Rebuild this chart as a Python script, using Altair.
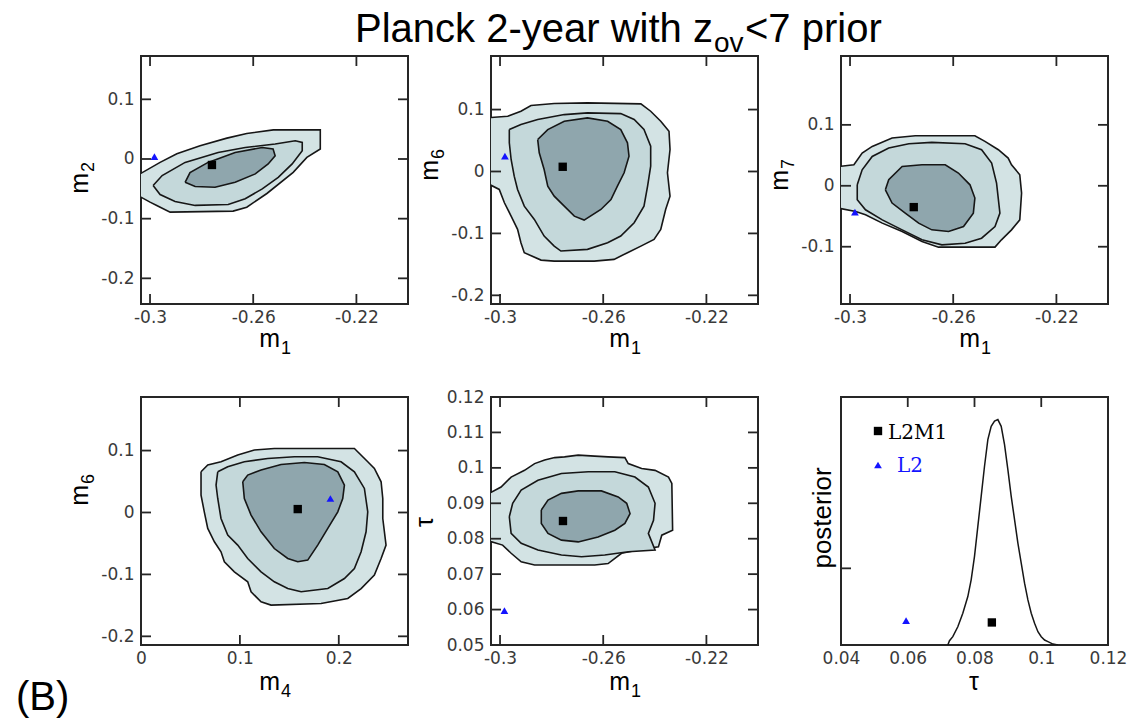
import altair as alt
import pandas as pd

# ---------------- text ----------------
TITLE_MAIN = "Planck 2-year with z"
TITLE_SUB = "ov"
TITLE_END = "<7 prior"
PANEL_TAG = "(B)"
LEGEND_LABELS = ["L2M1", "L2"]

# ---------------- axis domains / ticks ----------------
M1_DOMAIN = [-0.3035, -0.2]
M2_DOMAIN = [-0.243, 0.1726]
M6_DOMAIN = [-0.214, 0.1865]
M7_DOMAIN = [-0.194, 0.213]
M4_DOMAIN = [0.0, 0.27]
TAU_DOMAIN = [0.05, 0.12]
TAU6_DOMAIN = [0.04, 0.12]
POST_DOMAIN = [0.0, 1.1]

M1_TICKS = [-0.3, -0.26, -0.22]
MY_TICKS = [-0.2, -0.1, 0, 0.1]
M7_TICKS = [-0.1, 0, 0.1]
M4_TICKS = [0, 0.1, 0.2]
TAU_TICKS = [0.05, 0.06, 0.07, 0.08, 0.09, 0.1, 0.11, 0.12]
TAU6_TICKS = [0.04, 0.06, 0.08, 0.1, 0.12]
TAU6_TOP_TICKS = [0.06, 0.08, 0.1]
POST_TICKS = [0.34]

# ---------------- contours (outer, middle, inner) ----------------
P1_OUT_X = [-0.3054, -0.3035, -0.2961, -0.2896, -0.2806, -0.2702, -0.2625, -0.2522, -0.234, -0.234, -0.2392, -0.2445, -0.2547, -0.2625, -0.2678, -0.2922, -0.2974, -0.3, -0.3035, -0.3054]
P1_OUT_Y = [-0.0245, -0.024, -0.0057, 0.0088, 0.0222, 0.035, 0.0427, 0.0488, 0.0488, 0.0167, 0.0027, -0.0223, -0.0578, -0.0807, -0.0873, -0.089, -0.0778, -0.0723, -0.064, -0.063]
P1_MID_X = [-0.2988, -0.2953, -0.2864, -0.2736, -0.2631, -0.2515, -0.2437, -0.241, -0.241, -0.2449, -0.2503, -0.2565, -0.2631, -0.2697, -0.2825, -0.2903, -0.2961]
P1_MID_Y = [-0.0445, -0.0278, -0.0057, 0.011, 0.0193, 0.025, 0.0305, 0.0277, 0.0138, -0.0083, -0.0307, -0.05, -0.0667, -0.0762, -0.0778, -0.0712, -0.0595]
P1_IN_X = [-0.2864, -0.2845, -0.2775, -0.267, -0.2565, -0.2523, -0.2515, -0.2542, -0.2592, -0.267, -0.2748, -0.2825]
P1_IN_Y = [-0.039, -0.0228, -0.0057, 0.011, 0.0193, 0.0167, 0.0055, -0.0083, -0.025, -0.039, -0.0473, -0.0462]

P2_OUT_X = [-0.3054, -0.297, -0.2919, -0.288, -0.279, -0.2661, -0.2454, -0.2416, -0.2377, -0.2345, -0.2341, -0.2351, -0.2341, -0.2358, -0.2377, -0.2403, -0.2454, -0.2506, -0.2558, -0.2635, -0.279, -0.2841, -0.2906, -0.2919, -0.2932, -0.2957, -0.2983, -0.3003, -0.3054]
P2_OUT_Y = [0.0866, 0.0892, 0.0973, 0.1065, 0.1097, 0.1108, 0.1092, 0.0973, 0.0811, 0.065, 0.0355, -0.0021, -0.0398, -0.0613, -0.0935, -0.1097, -0.1205, -0.1311, -0.1419, -0.1447, -0.1447, -0.1431, -0.1311, -0.115, -0.0935, -0.0721, -0.0505, -0.029, -0.0182]
P2_MID_X = [-0.2964, -0.2919, -0.2854, -0.2751, -0.2661, -0.2532, -0.248, -0.2442, -0.2416, -0.2416, -0.2428, -0.2442, -0.248, -0.2532, -0.2583, -0.2661, -0.2764, -0.279, -0.2829, -0.2867, -0.2906, -0.2932, -0.2945, -0.2957, -0.2964]
P2_MID_Y = [0.0677, 0.0758, 0.0839, 0.0919, 0.0947, 0.0935, 0.0839, 0.0677, 0.0408, 0.0085, -0.0237, -0.056, -0.0827, -0.1043, -0.115, -0.1258, -0.1285, -0.1205, -0.1043, -0.0774, -0.056, -0.029, -0.0076, 0.0194, 0.0463]
P2_IN_X = [-0.2854, -0.2815, -0.2751, -0.2661, -0.2583, -0.2532, -0.2506, -0.25, -0.2519, -0.2545, -0.257, -0.2609, -0.2674, -0.2712, -0.2751, -0.279, -0.2815, -0.2829, -0.2848]
P2_IN_Y = [0.0516, 0.0677, 0.0811, 0.0866, 0.0811, 0.0677, 0.0463, 0.0247, -0.0021, -0.0237, -0.0452, -0.0613, -0.0785, -0.0721, -0.056, -0.0398, -0.0237, 0.0032, 0.0302]

P3_OUT_X = [-0.3045, -0.2985, -0.2953, -0.2914, -0.2837, -0.2747, -0.2516, -0.2477, -0.2425, -0.2387, -0.2374, -0.2342, -0.2335, -0.2342, -0.2374, -0.2413, -0.2438, -0.2657, -0.2721, -0.2798, -0.2875, -0.294, -0.2978, -0.3045]
P3_OUT_Y = [0.0317, 0.0345, 0.0537, 0.0646, 0.0784, 0.0822, 0.0822, 0.0728, 0.0592, 0.0455, 0.0345, 0.0181, -0.012, -0.0559, -0.0723, -0.0887, -0.1007, -0.1007, -0.0915, -0.0751, -0.0613, -0.0477, -0.0422, -0.0366]
P3_MID_X = [-0.2972, -0.2953, -0.2914, -0.285, -0.2772, -0.2683, -0.2554, -0.249, -0.2451, -0.2432, -0.2419, -0.2438, -0.249, -0.2554, -0.2644, -0.2721, -0.2798, -0.2875, -0.294, -0.2972]
P3_MID_Y = [0.0016, 0.0263, 0.0482, 0.062, 0.069, 0.0712, 0.069, 0.0592, 0.0373, 0.0044, -0.0449, -0.0668, -0.086, -0.0942, -0.097, -0.0887, -0.0723, -0.0559, -0.0394, -0.023]
P3_IN_X = [-0.2863, -0.285, -0.2798, -0.2721, -0.2631, -0.258, -0.2535, -0.2516, -0.2522, -0.256, -0.2618, -0.2683, -0.2734, -0.2786, -0.2837]
P3_IN_Y = [-0.0066, 0.0099, 0.0317, 0.0345, 0.0345, 0.0209, 0.0016, -0.0202, -0.0449, -0.0668, -0.0751, -0.0723, -0.0613, -0.0449, -0.0284]

P4_OUT_X = [0.0607, 0.0675, 0.0809, 0.0978, 0.1146, 0.1348, 0.2158, 0.2293, 0.236, 0.2428, 0.2445, 0.2445, 0.2478, 0.2428, 0.236, 0.2226, 0.2091, 0.1821, 0.1315, 0.1214, 0.1113, 0.1079, 0.0944, 0.0843, 0.0809, 0.0742, 0.0675, 0.064, 0.0607, 0.0607]
P4_OUT_Y = [0.0657, 0.0766, 0.0819, 0.0927, 0.1008, 0.1034, 0.1034, 0.0819, 0.0711, 0.0496, 0.0226, -0.0097, -0.0527, -0.0743, -0.1011, -0.1228, -0.1389, -0.147, -0.1496, -0.1443, -0.1281, -0.112, -0.0958, -0.0796, -0.0635, -0.0473, -0.0258, 0.0011, 0.0281, 0.0496]
P4_MID_X = [0.0776, 0.0877, 0.1045, 0.1281, 0.1551, 0.1787, 0.2023, 0.2158, 0.2259, 0.2293, 0.2276, 0.2226, 0.2158, 0.2057, 0.1889, 0.1619, 0.1484, 0.1348, 0.1214, 0.1079, 0.0978, 0.0877, 0.0809, 0.0776, 0.0759]
P4_MID_Y = [0.0657, 0.0738, 0.0819, 0.0872, 0.09, 0.09, 0.0819, 0.0657, 0.0388, 0.0011, -0.0312, -0.0635, -0.0905, -0.1066, -0.1228, -0.1281, -0.1228, -0.112, -0.0958, -0.0743, -0.0527, -0.0365, -0.0097, 0.0226, 0.0443]
P4_IN_X = [0.1029, 0.1079, 0.1214, 0.1416, 0.1652, 0.1854, 0.199, 0.2057, 0.204, 0.199, 0.1889, 0.1787, 0.1686, 0.1585, 0.1484, 0.1348, 0.1214, 0.1113, 0.1045]
P4_IN_Y = [0.0496, 0.0604, 0.0685, 0.0775, 0.0808, 0.0775, 0.0657, 0.0443, 0.0226, 0.0011, -0.0258, -0.0527, -0.0769, -0.0796, -0.0743, -0.0582, -0.0312, -0.0042, 0.0226]

P5_OUT_X = [-0.3055, -0.2996, -0.2957, -0.2905, -0.2866, -0.2827, -0.2788, -0.275, -0.2697, -0.2633, -0.2581, -0.2516, -0.2503, -0.2451, -0.2399, -0.2347, -0.2334, -0.2331, -0.2373, -0.2386, -0.2464, -0.2529, -0.2581, -0.2633, -0.2866, -0.2918, -0.2957, -0.299, -0.3055]
P5_OUT_Y = [0.0923, 0.0946, 0.0974, 0.0993, 0.1012, 0.1022, 0.1029, 0.1031, 0.1036, 0.1033, 0.1031, 0.1029, 0.1012, 0.0998, 0.0993, 0.0974, 0.0956, 0.0824, 0.081, 0.0777, 0.0768, 0.0759, 0.073, 0.0726, 0.0726, 0.0735, 0.0759, 0.0782, 0.0796]
P5_MID_X = [-0.2964, -0.2951, -0.2918, -0.2853, -0.2762, -0.2658, -0.2555, -0.2477, -0.2425, -0.2399, -0.2405, -0.2425, -0.2399, -0.2503, -0.2594, -0.2684, -0.2762, -0.2853, -0.2918, -0.2957]
P5_MID_Y = [0.0862, 0.09, 0.0937, 0.0965, 0.0984, 0.0989, 0.0989, 0.0974, 0.0946, 0.09, 0.0852, 0.0815, 0.0768, 0.0763, 0.0754, 0.0749, 0.0754, 0.0768, 0.0787, 0.0815]
P5_IN_X = [-0.284, -0.2814, -0.2762, -0.2697, -0.2607, -0.2542, -0.2509, -0.2496, -0.2516, -0.2555, -0.262, -0.2697, -0.2762, -0.2814, -0.284]
P5_IN_Y = [0.0881, 0.0909, 0.0928, 0.0935, 0.0935, 0.0918, 0.09, 0.0871, 0.0843, 0.0824, 0.0805, 0.0791, 0.0796, 0.0815, 0.0843]

# ---------------- tau posterior ----------------
POST_TAU = [0.072, 0.0725, 0.0735, 0.075, 0.0765, 0.078, 0.079, 0.080, 0.081, 0.082, 0.083, 0.084, 0.085, 0.086, 0.087, 0.088, 0.089, 0.090, 0.091, 0.092, 0.093, 0.094, 0.095, 0.096, 0.097, 0.098, 0.099, 0.100, 0.101, 0.102, 0.1035, 0.105]
POST_VAL = [0.0, 0.019, 0.037, 0.081, 0.141, 0.215, 0.289, 0.393, 0.526, 0.659, 0.793, 0.911, 0.970, 0.993, 1.0, 0.970, 0.889, 0.778, 0.659, 0.556, 0.452, 0.363, 0.274, 0.2, 0.141, 0.096, 0.059, 0.037, 0.022, 0.015, 0.004, 0.0]

# ---------------- best-fit points (L2M1 square, L2 triangle) ----------------
BEST_X = [-0.276, -0.2757, -0.2753, 0.1585, -0.2756, 0.0852]
BEST_Y = [-0.01, 0.0076, -0.035, 0.0055, 0.085, 0.1]
L2_X = [-0.2983, -0.2981, -0.2981, 0.1915, -0.2983, 0.0595]
L2_Y = [0.004, 0.0247, -0.0432, 0.0226, 0.0597, 0.108]

# ---------------- style ----------------
W, H = 267, 248
TL = 10
FILLS = ["#d3e3e4", "#c4d8da", "#8fa6ad"]
LINE = "#161616"
FRAME = "#262626"
BLUE = "#1414ff"
SANS = "Liberation Sans"
LBL = "replace(format(datum.value, '~g'), '\u2212', '-')"


def txt(s, x, y, size, angle=0, align="center", font=SANS, color="black"):
    return alt.Chart(pd.DataFrame({"t": [s]})).mark_text(
        text=s, fontSize=size, angle=angle, align=align, baseline="alphabetic",
        font=font, color=color,
    ).encode(x=alt.value(x), y=alt.value(y))


def panel(xdom, ydom, xlab, ylab, xt_top, xt_bot, yt_left, yt_right, polys, idx, show_y=True):
    xs = alt.Scale(domain=xdom, nice=False, zero=False)
    ys = alt.Scale(domain=ydom, nice=False, zero=False)
    X = alt.X("x:Q", scale=xs, axis=alt.Axis(values=xlab, labelExpr=LBL, title=None))
    if show_y:
        Y = alt.Y("y:Q", scale=ys, axis=alt.Axis(values=ylab, labelExpr=LBL, title=None))
    else:
        Y = alt.Y("y:Q", scale=ys, axis=None)
    layers = []
    for (px, py), fill in zip(polys, FILLS[: len(polys)]):
        df = pd.DataFrame({"x": px + px[:1], "y": py + py[:1], "i": list(range(len(px) + 1))})
        layers.append(
            alt.Chart(df).mark_line(fill=fill, stroke=LINE, strokeWidth=1.6, clip=True)
            .encode(x=X, y=Y, order="i:Q")
        )
    if xt_bot:
        layers.append(alt.Chart(pd.DataFrame({"x": xt_bot})).mark_rule(color=FRAME, strokeWidth=1.8)
                      .encode(x=X, y=alt.value(H), y2=alt.value(H - TL)))
    if xt_top:
        layers.append(alt.Chart(pd.DataFrame({"x": xt_top})).mark_rule(color=FRAME, strokeWidth=1.8)
                      .encode(x=X, y=alt.value(0), y2=alt.value(TL)))
    if yt_left:
        layers.append(alt.Chart(pd.DataFrame({"y": yt_left})).mark_rule(color=FRAME, strokeWidth=1.8)
                      .encode(y=Y, x=alt.value(0), x2=alt.value(TL)))
    if yt_right:
        layers.append(alt.Chart(pd.DataFrame({"y": yt_right})).mark_rule(color=FRAME, strokeWidth=1.8)
                      .encode(y=Y, x=alt.value(W), x2=alt.value(W - TL)))
    layers.append(alt.Chart(pd.DataFrame({"x": [L2_X[idx]], "y": [L2_Y[idx]]}))
                  .mark_point(shape="triangle-up", filled=True, size=60, color=BLUE, opacity=1)
                  .encode(x=X, y=Y))
    layers.append(alt.Chart(pd.DataFrame({"x": [BEST_X[idx]], "y": [BEST_Y[idx]]}))
                  .mark_square(size=70, color="black", opacity=1)
                  .encode(x=X, y=Y))
    return layers, X, Y


def xtitle(sym, sub, yb):
    out = []
    if sub:
        out.append(txt(sym, 139, yb, 25, align="right"))
        out.append(txt(sub, 140, yb + 7, 18, align="left"))
    else:
        out.append(txt(sym, 133, yb, 25, align="center"))
    return out


def ytitle(sym, sub, ytop):
    return [txt(sym, -53, ytop, 25, angle=270, align="right"),
            txt(sub, -47, ytop - 1, 18, angle=270, align="left")]


# panel 1: m2 vs m1
l1, _, _ = panel(M1_DOMAIN, M2_DOMAIN, M1_TICKS, MY_TICKS, M1_TICKS, M1_TICKS, MY_TICKS, MY_TICKS,
                 [(P1_OUT_X, P1_OUT_Y), (P1_MID_X, P1_MID_Y), (P1_IN_X, P1_IN_Y)], 0)
l1 += xtitle("m", "1", H + 43) + ytitle("m", "2", 117)
p1 = alt.layer(*l1).properties(width=W, height=H)

# panel 2: m6 vs m1 (also carries the figure title)
l2, _, _ = panel(M1_DOMAIN, M6_DOMAIN, M1_TICKS, MY_TICKS, M1_TICKS, M1_TICKS, MY_TICKS, MY_TICKS,
                 [(P2_OUT_X, P2_OUT_Y), (P2_MID_X, P2_MID_Y), (P2_IN_X, P2_IN_Y)], 1)
l2 += xtitle("m", "1", H + 43) + ytitle("m", "6", 104)
l2 += [txt(TITLE_MAIN, -136, -14, 40, align="left"),
       txt(TITLE_SUB, 223, -4, 28, align="left"),
       txt(TITLE_END, 254, -14, 40, align="left")]
p2 = alt.layer(*l2).properties(width=W, height=H)

# panel 3: m7 vs m1
l3, _, _ = panel(M1_DOMAIN, M7_DOMAIN, M1_TICKS, M7_TICKS, M1_TICKS, M1_TICKS, M7_TICKS, M7_TICKS,
                 [(P3_OUT_X, P3_OUT_Y), (P3_MID_X, P3_MID_Y), (P3_IN_X, P3_IN_Y)], 2)
l3 += xtitle("m", "1", H + 43) + ytitle("m", "7", 114)
p3 = alt.layer(*l3).properties(width=W, height=H)

# panel 4: m6 vs m4
l4, _, _ = panel(M4_DOMAIN, M6_DOMAIN, M4_TICKS, MY_TICKS, M4_TICKS, M4_TICKS, MY_TICKS, MY_TICKS,
                 [(P4_OUT_X, P4_OUT_Y), (P4_MID_X, P4_MID_Y), (P4_IN_X, P4_IN_Y)], 3)
l4 += xtitle("m", "4", H + 45) + ytitle("m", "6", 88)
l4 += [txt(PANEL_TAG, -125, 313, 40, align="left")]
p4 = alt.layer(*l4).properties(width=W, height=H)

# panel 5: tau vs m1
l5, _, _ = panel(M1_DOMAIN, TAU_DOMAIN, M1_TICKS, TAU_TICKS, M1_TICKS, M1_TICKS, TAU_TICKS, TAU_TICKS,
                 [(P5_OUT_X, P5_OUT_Y), (P5_MID_X, P5_MID_Y), (P5_IN_X, P5_IN_Y)], 4)
l5 += xtitle("m", "1", H + 45)
l5 += [txt("τ", -58, 125, 25, angle=270, align="center")]
p5 = alt.layer(*l5).properties(width=W, height=H)

# panel 6: posterior of tau
l6, X6, Y6 = panel(TAU6_DOMAIN, POST_DOMAIN, TAU6_TICKS, None, TAU6_TOP_TICKS, None, POST_TICKS, None,
                   [], 5, show_y=False)
curve = pd.DataFrame({"x": POST_TAU, "y": POST_VAL})
l6.insert(0, alt.Chart(curve).mark_line(color=LINE, strokeWidth=1.5, clip=True).encode(x=X6, y=Y6))
l6 += xtitle("τ", None, H + 45)
l6 += [txt("posterior", -10, 121, 26, angle=270, align="center")]
l6 += [
    alt.Chart(pd.DataFrame({"a": [0]})).mark_square(size=70, color="black", opacity=1)
    .encode(x=alt.value(37), y=alt.value(34)),
    alt.Chart(pd.DataFrame({"a": [0]})).mark_point(shape="triangle-up", filled=True, size=60, color=BLUE, opacity=1)
    .encode(x=alt.value(37), y=alt.value(68)),
    txt(LEGEND_LABELS[0], 47, 42, 20, align="left", font="DejaVu Serif"),
    txt(LEGEND_LABELS[1], 56, 75, 20, align="left", font="DejaVu Serif", color=BLUE),
]
p6 = alt.layer(*l6).properties(width=W, height=H)

chart = (
    alt.concat(p1, p2, p3, p4, p5, p6, columns=3, spacing={"row": 93, "column": 83}, bounds="flush")
    .properties(padding={"left": 15, "top": 9, "right": 0, "bottom": 0}, background="white")
    .configure_view(stroke=FRAME, strokeWidth=2)
    .configure_axis(labelFont="DejaVu Sans", labelFontSize=17, labelColor="#3a3a3a",
                    ticks=False, tickSize=0, domain=False, grid=False,
                    labelFlush=False, labelOverlap=False)
    .configure_axisX(labelPadding=5)
    .configure_axisY(labelPadding=7)
)

chart.save("out.html", embed_options={"renderer": "svg", "actions": False})
